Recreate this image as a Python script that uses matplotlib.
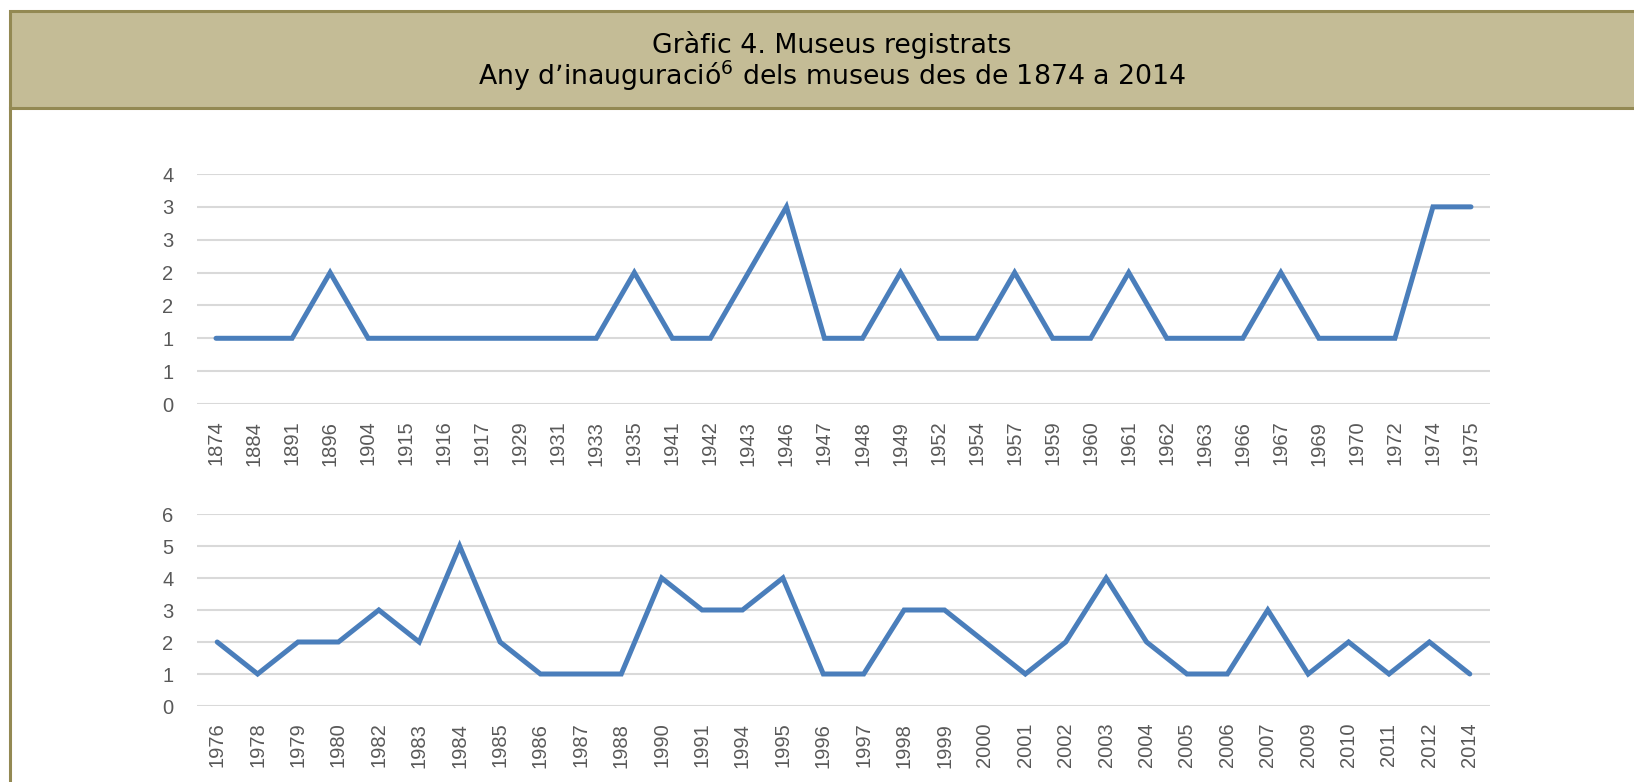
import matplotlib
matplotlib.use("Agg")
import matplotlib.pyplot as plt
from matplotlib.patches import Rectangle
from matplotlib.lines import Line2D
from matplotlib.ticker import FuncFormatter
import numpy as np

# data
years_top = ['1874', '1884', '1891', '1896', '1904', '1915', '1916', '1917', '1929', '1931',
             '1933', '1935', '1941', '1942', '1943', '1946', '1947', '1948', '1949', '1952',
             '1954', '1957', '1959', '1960', '1961', '1962', '1963', '1966', '1967', '1969',
             '1970', '1972', '1974', '1975']
counts_top = [1, 1, 1, 2, 1, 1, 1, 1, 1, 1,
              1, 2, 1, 1, 2, 3, 1, 1, 2, 1,
              1, 2, 1, 1, 2, 1, 1, 1, 2, 1,
              1, 1, 3, 3]

years_bottom = ['1976', '1978', '1979', '1980', '1982', '1983', '1984', '1985', '1986', '1987',
                '1988', '1990', '1991', '1994', '1995', '1996', '1997', '1998', '1999', '2000',
                '2001', '2002', '2003', '2004', '2005', '2006', '2007', '2009', '2010', '2011',
                '2012', '2014']
counts_bottom = [2, 1, 2, 2, 3, 2, 5, 2, 1, 1,
                 1, 4, 3, 3, 4, 1, 1, 3, 3, 2,
                 1, 2, 4, 2, 1, 1, 3, 1, 2, 1,
                 2, 1]

title_1 = "Gràfic 4. Museus registrats"
title_2 = "Any d\u2019inauguració$^{6}$ dels museus des de 1874 a 2014"

W, H = 1634, 782
LINE_COLOR = '#4A7EBB'
GRID_COLOR = '#D9D9D9'
TEXT_GRAY = '#595959'
BAND = '#C4BC96'
BORDER = '#938953'

fig = plt.figure(figsize=(W / 100, H / 100), dpi=100)
fig.patch.set_facecolor('white')


def px_rect(left, top, right, bottom):
    return [left / W, 1 - bottom / H, (right - left) / W, (bottom - top) / H]


# header band + frame
fig.patches.append(Rectangle((10 / W, 1 - 108 / H), 1.0, 97 / H, transform=fig.transFigure,
                             facecolor=BAND, edgecolor=BORDER, linewidth=2.2, zorder=0))
fig.lines.append(Line2D([10 / W, 10 / W], [1 - 108 / H, 0], transform=fig.transFigure,
                        color=BORDER, linewidth=2.2))

fig.text(832 / W, 1 - 53 / H, title_1, ha='center', va='baseline', fontsize=19.25,
         family='DejaVu Sans', color='black')
fig.text(832 / W, 1 - 85 / H, title_2, ha='center', va='baseline', fontsize=19.25,
         family='DejaVu Sans', color='black')


def excel_round(v, pos):
    return str(int(np.floor(v + 0.5 + 1e-9)))


def draw_panel(rect, labels, values, ymax, ystep):
    ax = fig.add_axes(rect)
    x = np.arange(len(labels))
    ax.plot(x, values, color=LINE_COLOR, linewidth=3.6, solid_joinstyle='miter',
            solid_capstyle='round', zorder=3)
    ax.set_xlim(-0.5, len(labels) - 0.5)
    ax.set_ylim(0, ymax)
    ax.set_yticks(np.arange(0, ymax + 1e-9, ystep))
    ax.yaxis.set_major_formatter(FuncFormatter(excel_round))
    ax.set_xticks(x)
    ax.set_xticklabels(labels, rotation=90)
    ax.grid(axis='y', color=GRID_COLOR, linewidth=1.5)
    ax.set_axisbelow(True)
    for s in ax.spines.values():
        s.set_visible(False)
    ax.tick_params(axis='both', length=0, labelsize=14.5, labelcolor=TEXT_GRAY)
    ax.tick_params(axis='y', pad=17)
    ax.tick_params(axis='x', pad=12)
    for t in ax.get_xticklabels() + ax.get_yticklabels():
        t.set_family('Liberation Sans')
    ax.set_facecolor('none')
    return ax


draw_panel(px_rect(197, 174, 1490, 404), years_top, counts_top, 3.5, 0.5)
draw_panel(px_rect(197, 514, 1490, 706), years_bottom, counts_bottom, 6, 1)

fig.savefig('out.png', dpi=100, facecolor='white')
